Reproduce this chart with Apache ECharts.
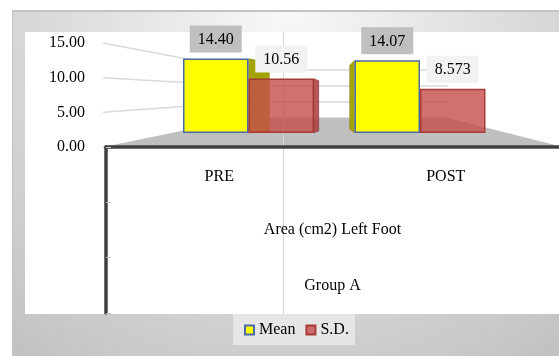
<!DOCTYPE html>
<html>
<head>
<meta charset="utf-8">
<script src="https://cdn.jsdelivr.net/npm/echarts@6/dist/echarts.min.js"></script>
<style>
  html, body { margin: 0; padding: 0; background: #ffffff; }
  #chart { width: 559px; height: 356px; }
</style>
</head>
<body>
<div id="chart"></div>
<script>
// Left-foot contact area, group A, before and after
const categories = ['PRE', 'POST'];
const meanValues = [14.40, 14.07];
const sdValues = [10.56, 8.573];
const yTicks = [0, 5, 10, 15];
const rowLabels = ['Area (cm2) Left Foot', 'Group A'];
const seriesNames = ['Mean', 'S.D.'];

const FONT = '"Liberation Serif", "Times New Roman", serif';
const FONT_SIZE = 16;
const BAR_W = 65.5;
// depth of the visible side face of each box (+ right side, - left side)
const MEAN_SIDE = [21, -5];
const SD_SIDE = [5, 0];

const yMin = yTicks[0];
const yMax = yTicks[yTicks.length - 1];
const yStep = yTicks[1] - yTicks[0];

function sideRenderer(isMean, depths, fill) {
  return function (params, api) {
    const i = api.value(0);
    const top = api.coord([i, api.value(1)]);
    const base = api.coord([i, 0]);
    const cx = top[0];
    const left = isMean ? cx - BAR_W : cx;
    const right = isMean ? cx : cx + BAR_W;
    const d = depths[i];
    if (!d) return null;
    let pts;
    if (d > 0) {
      pts = [[right, top[1]], [right + d, top[1] + Math.min(4, d * 0.4)],
             [right + d, base[1] - 2], [right, base[1]]];
    } else {
      pts = [[left, top[1]], [left + d, top[1] + 5],
             [left + d, base[1] - 4], [left, base[1]]];
    }
    return {
      type: 'polygon',
      shape: { points: pts },
      style: { fill: fill, stroke: 'rgba(0,0,0,0.15)', lineWidth: 0.8 }
    };
  };
}

const chart = echarts.init(document.getElementById('chart'), null, { renderer: 'canvas' });

const labelText = { fontFamily: FONT, fontSize: FONT_SIZE, color: '#000000' };

const option = {
  animation: false,
  grid: [
    { left: 245, right: 111, top: 70, bottom: 238, outerBoundsMode: 'none' },   // back wall
    { left: 103, width: 10, top: 43, bottom: 209, outerBoundsMode: 'none' },   // value scale labels
    { left: 162.75, right: 53.25, top: 55.5, bottom: 223, outerBoundsMode: 'none' }, // boxes
    { left: 106, right: 0, top: 147, bottom: 43, outerBoundsMode: 'none' }      // category table
  ],
  xAxis: [
    { gridIndex: 0, type: 'value', min: 0, max: 1, show: false },
    { gridIndex: 1, type: 'value', min: 0, max: 1, show: false },
    { gridIndex: 2, type: 'category', data: categories, show: false },
    {
      gridIndex: 3, type: 'category', data: categories, position: 'top', z: 6,
      axisLine: { show: true, lineStyle: { color: '#404040', width: 3.5 } },
      axisTick: { show: false },
      splitLine: { show: false },
      axisLabel: Object.assign({ inside: true, margin: 22 }, labelText)
    }
  ],
  yAxis: [
    {
      gridIndex: 0, type: 'value', min: yMin, max: yMax, interval: yStep,
      axisLine: { show: false }, axisTick: { show: false }, axisLabel: { show: false },
      splitLine: { show: true, lineStyle: { color: '#d9d9d9', width: 1.5 } }
    },
    {
      gridIndex: 1, type: 'value', min: yMin, max: yMax, interval: yStep,
      axisLine: { show: false }, axisTick: { show: false }, splitLine: { show: false },
      axisLabel: Object.assign({ margin: 18, formatter: v => v.toFixed(2) }, labelText)
    },
    { gridIndex: 2, type: 'value', min: yMin, max: yMax, show: false },
    {
      gridIndex: 3, type: 'category', inverse: true, data: [''].concat(rowLabels), z: 6,
      axisLine: { show: true, lineStyle: { color: '#404040', width: 3.5 } },
      axisTick: { show: true, inside: true, length: 5, lineStyle: { color: '#c8c8c8', width: 1 } },
      axisLabel: { show: false },
      splitLine: { show: false }
    }
  ],
  legend: {
    data: seriesNames,
    left: 233, top: 314,
    padding: [8, 6, 7, 11],
    itemWidth: 9, itemHeight: 9, itemGap: 10,
    backgroundColor: '#e6e6e6',
    icon: 'rect',
    textStyle: labelText
  },
  series: [
    {
      name: 'mean-side', type: 'custom', xAxisIndex: 2, yAxisIndex: 2, z: 2, silent: true,
      data: meanValues.map((v, i) => [i, v]),
      renderItem: sideRenderer(true, MEAN_SIDE, '#a3a300')
    },
    {
      name: 'sd-side', type: 'custom', xAxisIndex: 2, yAxisIndex: 2, z: 2, silent: true,
      data: sdValues.map((v, i) => [i, v]),
      renderItem: sideRenderer(false, SD_SIDE, 'rgba(170,60,58,0.85)')
    },
    {
      name: seriesNames[0], type: 'bar', xAxisIndex: 2, yAxisIndex: 2, z: 3,
      data: meanValues, barWidth: BAR_W, barGap: '0%',
      itemStyle: { color: '#ffff00', borderColor: '#4a6aa8', borderWidth: 1.5 },
      label: Object.assign({
        show: true, position: 'top', distance: 6,
        formatter: p => p.value.toFixed(2),
        backgroundColor: '#bfbfbf', padding: [5, 8, 4, 8], lineHeight: 18
      }, labelText)
    },
    {
      name: seriesNames[1], type: 'bar', xAxisIndex: 2, yAxisIndex: 2, z: 3,
      data: sdValues, barWidth: BAR_W, barGap: '0%',
      itemStyle: { color: 'rgba(196,78,76,0.8)', borderColor: '#a83a38', borderWidth: 1.5 },
      label: Object.assign({
        show: true, position: 'top', distance: 6,
        formatter: p => String(p.value),
        backgroundColor: '#f2f2f2', padding: [5, 8, 4, 8], lineHeight: 18
      }, labelText)
    }
  ]
};

chart.setOption(option);

// Decorations placed from the axes' own pixel mapping
const wallPt = v => chart.convertToPixel({ xAxisIndex: 0, yAxisIndex: 0 }, [0, v]);
const wallEnd = v => chart.convertToPixel({ xAxisIndex: 0, yAxisIndex: 0 }, [1, v]);
const frontPt = v => chart.convertToPixel({ xAxisIndex: 1, yAxisIndex: 1 }, [0, v]);

const graphics = [
  {
    type: 'rect', z: -100, silent: true,
    shape: { x: 12, y: 10, width: 547, height: 346 },
    style: {
      fill: new echarts.graphic.RadialGradient(0.5, 0, 1.25, [
        { offset: 0, color: '#f8f8f8' },
        { offset: 1, color: '#c2c2c2' }
      ])
    }
  },
  { type: 'line', z: -99, silent: true, shape: { x1: 12, y1: 11, x2: 559, y2: 11 },
    style: { stroke: '#c4c4c4', lineWidth: 2 } },
  { type: 'line', z: -99, silent: true, shape: { x1: 12.5, y1: 11, x2: 12.5, y2: 356 },
    style: { stroke: '#c4c4c4', lineWidth: 1 } },
  { type: 'rect', z: -90, silent: true, shape: { x: 25, y: 32, width: 534, height: 282 },
    style: { fill: '#ffffff' } }
];

// side wall lines running from the value labels back to the wall
yTicks.slice(1).forEach(v => {
  const a = frontPt(v), b = wallPt(v);
  graphics.push({
    type: 'polyline', z: 0, silent: true,
    shape: { points: [a, b] },
    style: { stroke: '#d9d9d9', lineWidth: 1.5, fill: null }
  });
});

// floor
const f0 = frontPt(yMin), w0 = wallPt(yMin), w1 = wallEnd(yMin);
graphics.push({
  type: 'polygon', z: 1, silent: true,
  shape: { points: [[f0[0], f0[1]], w0, w1, [559, f0[1] - 1], [559, f0[1] + 1], [f0[0], f0[1] + 1]] },
  style: { fill: '#bfbfbf' }
});

// divider line
graphics.push({
  type: 'line', z: 1, silent: true,
  shape: { x1: 283.5, y1: 32, x2: 283.5, y2: 314 },
  style: { stroke: '#d6d6d6', lineWidth: 1 }
});

// row titles of the category table
const cx = (chart.convertToPixel({ xAxisIndex: 3 }, categories[0]) +
            chart.convertToPixel({ xAxisIndex: 3 }, categories[1])) / 2;
rowLabels.forEach(t => {
  const y = chart.convertToPixel({ yAxisIndex: 3 }, t);
  graphics.push({
    type: 'text', z: 6, silent: true,
    x: cx, y: y,
    style: { text: t, font: FONT_SIZE + 'px ' + FONT, fill: '#000', align: 'center', verticalAlign: 'middle' }
  });
});

chart.setOption({ graphic: graphics });
</script>
</body>
</html>
